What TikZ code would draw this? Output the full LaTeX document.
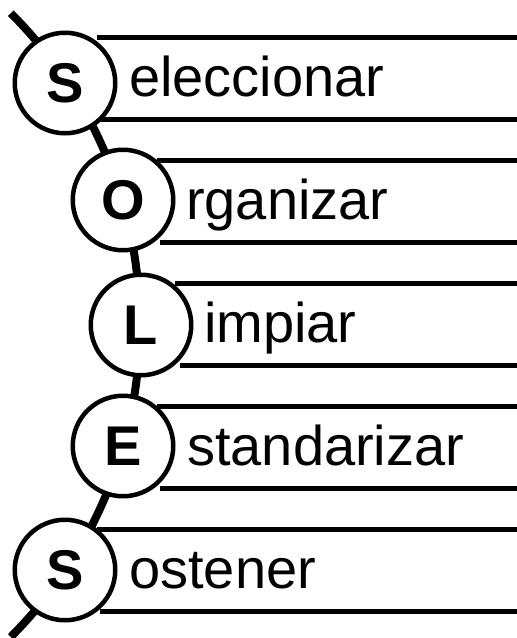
\documentclass[tikz,border=0pt]{standalone}
\usepackage{fontspec}
\setmainfont{Liberation Sans}
\begin{document}
\begin{tikzpicture}[x=1pt,y=-1pt,
  spine/.style={line width=8pt},
  rule/.style={line width=5pt},
  letter/.style={circle, draw, line width=4.5pt, fill=white, minimum size=100.5pt, inner sep=0pt,
    font=\fontsize{56}{56}\selectfont\bfseries},
  word/.style={anchor=base west, inner sep=0pt, font=\fontsize{56}{56}\selectfont}]
\useasboundingbox (0,0) rectangle (517,638);
% spine
\coordinate (top) at (10.8,13.2);
\draw[spine] (top) arc[start angle=-45, end angle=45, radius=441];
% rules
\draw[rule] (97,37) -- (517,37);   \draw[rule] (100,119) -- (517,119);
\draw[rule] (157,160) -- (517,160); \draw[rule] (160,242) -- (517,242);
\draw[rule] (175,283) -- (517,283); \draw[rule] (180,365) -- (517,365);
\draw[rule] (157,406) -- (517,406); \draw[rule] (160,488) -- (517,488);
\draw[rule] (97,529) -- (517,529);  \draw[rule] (100,611) -- (517,611);
% circles
\node[letter] (s1) at (65,83) {S};
\node[letter] (o) at (123,200) {O};
\node[letter] (l) at (141,325) {L};
\node[letter] (e) at (123,446) {E};
\node[letter] (s2) at (65,570) {S};
% words
\node[word] (w1) at (129,96) {eleccionar};
\node[word] (w2) at (186,219) {rganizar};
\node[word] (w3) at (204,342) {impiar};
\node[word] (w4) at (187,465) {standarizar};
\node[word] (w5) at (129,588) {ostener};
\end{tikzpicture}
\end{document}
